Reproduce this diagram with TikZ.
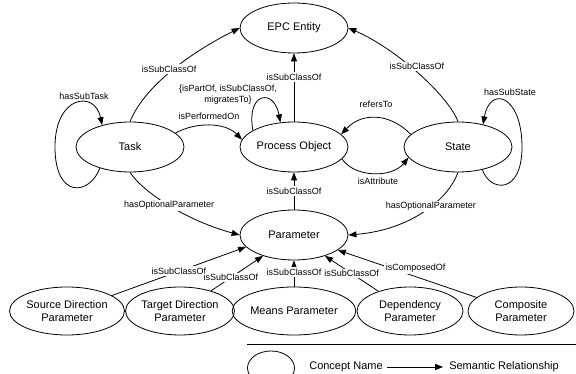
\documentclass[tikz,border=0pt]{standalone}
\usepackage{fontspec}
\setmainfont{Liberation Sans}
\usetikzlibrary{arrows.meta,shapes.geometric}
\begin{document}
\begin{tikzpicture}[x=1pt,y=-1pt,
  concept/.style={ellipse,draw,line width=0.8pt,minimum width=108pt,minimum height=50pt,
                  inner sep=0pt,align=center,font=\fontsize{11}{13}\selectfont},
  subconcept/.style={concept,minimum width=106pt,minimum height=48pt},
  rel/.style={draw,line width=0.8pt,-{Triangle[length=8pt,width=6pt]}},
  lbl/.style={font=\fontsize{9}{11}\selectfont,inner sep=1pt,align=center},
  lblw/.style={lbl,fill=white,inner sep=1.5pt},
  legtext/.style={font=\fontsize{11}{13}\selectfont,inner ysep=2pt}]
\clip (0,0) rectangle (576,374);

% concepts
\node[concept] (epc)   at (294,28)  {EPC Entity};
\node[concept] (task)  at (130,147) {Task};
\node[concept] (po)    at (294,147) {Process Object};
\node[concept] (state) at (458,147) {State};
\node[concept] (param) at (294,235) {Parameter};
\node[subconcept] (source) at (67,311)  {Source Direction\\Parameter};
\node[subconcept] (target) at (180,311) {Target Direction\\Parameter};
\node[subconcept] (means)  at (294,311) {Means Parameter};
\node[subconcept] (dep)    at (410,311) {Dependency\\Parameter};
\node[subconcept] (comp)   at (521,311) {Composite\\Parameter};

% loop turning points
\coordinate (taskLoop)  at (55,147);
\coordinate (stateLoop) at (522,147);

% relations towards EPC Entity
\draw[rel] (task.north) .. controls (145,85) and (192,52) .. (epc.west)
  node[lblw,pos=0.47,yshift=4pt] (lTaskEpc) {isSubClassOf};
\draw[rel] (state.north) .. controls (448,95) and (395,48) .. (epc.east)
  node[lblw,pos=0.5,yshift=6pt] (lStateEpc) {isSubClassOf};
\draw[rel] (po.north) -- (epc.south)
  node[lblw,pos=0.65] (lPoEpc) {isSubClassOf};

% process object self relation
\draw[rel] (po.158) .. controls (246,92) and (274,88) .. (po.119)
  node[lbl] (lPoSelf) at (228,94.5) {\{isPartOf, isSubClassOf,\\migratesTo\}};

% relations on the middle row
\draw[rel] (task.17) .. controls (195,122) and (225,122) .. (po.172)
  node[lbl] (lPerf) at (209,116) {isPerformedOn};
\draw[rel] (state.165) .. controls (390,113) and (362,112) .. (po.15)
  node[lbl] (lRef) at (376,104) {refersTo};
\draw[rel] (po.-14) .. controls (355,178) and (392,178) .. (state.192)
  node[lbl] (lAttr) at (378,181) {isAttribute};

% sub-task and sub-state loops
\draw[rel] (task.215) .. controls (90,195) and (55,200) .. (taskLoop)
  .. controls (55,95) and (95,90) .. (task.142)
  node[lbl] (lSubTask) at (84,96) {hasSubTask};
\draw[rel] (state.-43) .. controls (490,192) and (522,195) .. (stateLoop)
  .. controls (522,95) and (490,85) .. (state.42)
  node[lbl] (lSubState) at (510,92) {hasSubState};

% optional parameters
\draw[rel] (task.south) .. controls (143,192) and (185,220) .. (param.west)
  node[lblw,pos=0.5] (lOptTask) {hasOptionalParameter};
\draw[rel] (state.south) .. controls (448,200) and (410,230) .. (param.east)
  node[lblw,pos=0.42] (lOptState) {hasOptionalParameter};

% parameter kinds
\draw[rel] (param.north) -- (po.south)
  node[lblw,pos=0.5] (lParamPo) {isSubClassOf};
\draw[rel] (source.19) -- (param.194)
  node[lblw,pos=0.5] (lSource) {isSubClassOf};
\draw[rel] (target.33) -- (param.214)
  node[lblw,pos=0.38] (lTarget) {isSubClassOf};
\draw[rel] (means.north) -- (param.south)
  node[lblw,pos=0.55] (lMeans) {isSubClassOf};
\draw[rel] (dep.148) -- (param.-34)
  node[lblw,pos=0.5] (lDep) {isSubClassOf};
\draw[rel] (comp.163) -- (param.-19)
  node[lblw,pos=0.44,yshift=8pt] (lComp) {isComposedOf};

% legend
\coordinate (legL) at (247,344);
\coordinate (legR) at (576,344);
\draw[line width=0.8pt] (legL) -- (legR);
\node[concept,minimum width=47pt,minimum height=34pt] (legShape) at (271,368) {};
\node[legtext,inner xsep=4pt] (legConcept) at (346,367) {Concept Name};
\node[legtext,inner xsep=6pt] (legRel) at (504,367) {Semantic Relationship};
\draw[rel] (legConcept) -- (legRel);
\end{tikzpicture}
\end{document}
